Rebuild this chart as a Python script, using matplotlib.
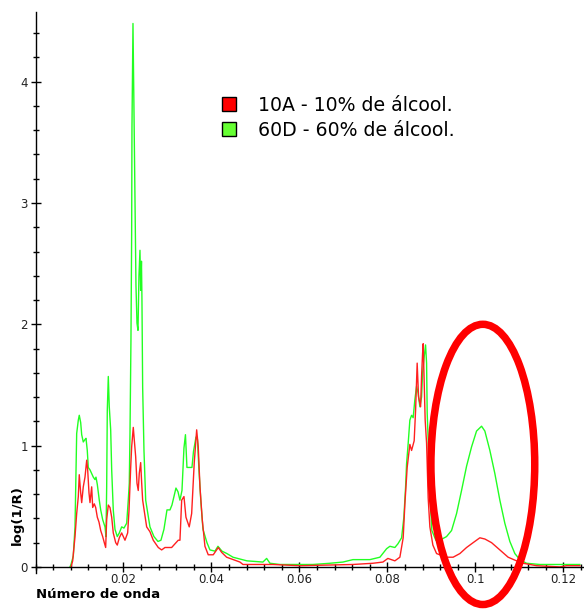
import matplotlib
matplotlib.use('Agg')
import matplotlib.pyplot as plt
from matplotlib.patches import Ellipse, Patch
from matplotlib.ticker import MultipleLocator

# 60D - 60% de alcool (green)
green_x = [0.00784, 0.00807, 0.00859, 0.00898, 0.00920, 0.00936, 0.00973, 0.00995, 0.01027, 0.01050,
           0.01086, 0.01125, 0.01148, 0.01177, 0.01200, 0.01239, 0.01314, 0.01352, 0.01375, 0.01405,
           0.01450, 0.01482, 0.01527, 0.01580, 0.01602, 0.01618, 0.01632, 0.01655, 0.01677, 0.01709,
           0.01732, 0.01768, 0.01807, 0.01859, 0.01905, 0.01959, 0.02011, 0.02073, 0.02109, 0.02132,
           0.02148, 0.02170, 0.02186, 0.02193, 0.02216, 0.02232, 0.02245, 0.02261, 0.02284, 0.02307,
           0.02330, 0.02352, 0.02375, 0.02391, 0.02409, 0.02420, 0.02436, 0.02466, 0.02505, 0.02557,
           0.02602, 0.02693, 0.02784, 0.02852, 0.02920, 0.02989, 0.03057, 0.03102, 0.03193, 0.03239,
           0.03284, 0.03330, 0.03375, 0.03409, 0.03443, 0.03557, 0.03591, 0.03648, 0.03682, 0.03716,
           0.03761, 0.03807, 0.03898, 0.03966, 0.04080, 0.04148, 0.04239, 0.04352, 0.04489, 0.04807,
           0.05170, 0.05255, 0.05330, 0.05557, 0.06307, 0.06693, 0.06989, 0.07216, 0.07602, 0.07830,
           0.07982, 0.08057, 0.08170, 0.08239, 0.08323, 0.08375, 0.08414, 0.08436, 0.08473, 0.08511,
           0.08550, 0.08586, 0.08625, 0.08664, 0.08700, 0.08739, 0.08777, 0.08800, 0.08836, 0.08868,
           0.08891, 0.08905, 0.08927, 0.08966, 0.09011, 0.09102, 0.09193, 0.09345, 0.09459, 0.09573,
           0.09686, 0.09800, 0.09914, 0.10027, 0.10141, 0.10216, 0.10330, 0.10443, 0.10557, 0.10670,
           0.10784, 0.10898, 0.11011, 0.11164, 0.11466, 0.12375]
green_y = [0.00, 0.02, 0.09, 0.33, 0.80, 1.10, 1.21, 1.25, 1.19, 1.09,
           1.03, 1.05, 1.06, 0.96, 0.82, 0.80, 0.74, 0.72, 0.74, 0.68,
           0.55, 0.47, 0.39, 0.33, 0.25, 0.66, 1.29, 1.57, 1.32, 1.13,
           0.80, 0.47, 0.31, 0.25, 0.28, 0.33, 0.32, 0.36, 0.55, 0.69,
           1.10, 1.87, 2.75, 3.62, 4.48, 3.97, 3.62, 2.98, 2.32, 2.01,
           1.95, 2.40, 2.61, 2.28, 2.52, 2.20, 1.48, 0.96, 0.55, 0.43,
           0.33, 0.25, 0.21, 0.22, 0.31, 0.47, 0.47, 0.51, 0.65, 0.62,
           0.55, 0.63, 0.98, 1.09, 0.82, 0.82, 0.95, 1.07, 1.05, 0.80,
           0.53, 0.31, 0.20, 0.14, 0.13, 0.17, 0.13, 0.11, 0.08, 0.05,
           0.04, 0.07, 0.03, 0.02, 0.02, 0.03, 0.04, 0.06, 0.06, 0.08,
           0.15, 0.17, 0.16, 0.19, 0.24, 0.41, 0.66, 0.85, 1.02, 1.21,
           1.25, 1.23, 1.38, 1.49, 1.43, 1.32, 1.40, 1.60, 1.73, 1.83,
           1.68, 1.27, 1.05, 0.60, 0.30, 0.22, 0.22, 0.25, 0.30, 0.44,
           0.63, 0.83, 0.99, 1.12, 1.16, 1.12, 0.96, 0.77, 0.55, 0.36,
           0.21, 0.11, 0.06, 0.03, 0.02, 0.02]

# 10A - 10% de alcool (red)
red_x = [0.00807, 0.00845, 0.00898, 0.00936, 0.00973, 0.00995, 0.01027, 0.01050, 0.01086, 0.01125,
         0.01164, 0.01186, 0.01216, 0.01239, 0.01277, 0.01300, 0.01336, 0.01368, 0.01405, 0.01443,
         0.01482, 0.01527, 0.01564, 0.01595, 0.01618, 0.01655, 0.01693, 0.01732, 0.01768, 0.01823,
         0.01859, 0.01905, 0.01959, 0.02034, 0.02095, 0.02125, 0.02164, 0.02186, 0.02223, 0.02245,
         0.02277, 0.02307, 0.02336, 0.02359, 0.02391, 0.02414, 0.02436, 0.02473, 0.02527, 0.02602,
         0.02677, 0.02791, 0.02868, 0.02943, 0.03095, 0.03245, 0.03284, 0.03323, 0.03375, 0.03420,
         0.03495, 0.03550, 0.03609, 0.03664, 0.03700, 0.03739, 0.03791, 0.03852, 0.03927, 0.04041,
         0.04155, 0.04232, 0.04345, 0.04648, 0.04716, 0.05398, 0.06011, 0.07216, 0.07670, 0.07898,
         0.08011, 0.08170, 0.08284, 0.08359, 0.08398, 0.08450, 0.08511, 0.08550, 0.08609, 0.08641,
         0.08677, 0.08709, 0.08755, 0.08777, 0.08800, 0.08814, 0.08836, 0.08859, 0.08891, 0.08927,
         0.08966, 0.09034, 0.09118, 0.09345, 0.09495, 0.09648, 0.09800, 0.09950, 0.10102, 0.10216,
         0.10368, 0.10557, 0.10745, 0.10936, 0.11086, 0.11391, 0.11920, 0.12073, 0.12375]
red_y = [0.00, 0.05, 0.25, 0.44, 0.58, 0.76, 0.61, 0.53, 0.66, 0.74,
         0.88, 0.80, 0.61, 0.53, 0.66, 0.49, 0.52, 0.49, 0.41, 0.37,
         0.30, 0.25, 0.20, 0.16, 0.39, 0.51, 0.49, 0.41, 0.28, 0.20,
         0.18, 0.24, 0.28, 0.22, 0.28, 0.46, 0.82, 0.99, 1.15, 1.05,
         0.91, 0.69, 0.63, 0.77, 0.86, 0.69, 0.55, 0.46, 0.33, 0.29,
         0.22, 0.16, 0.14, 0.16, 0.16, 0.22, 0.22, 0.55, 0.58, 0.41,
         0.33, 0.44, 0.86, 1.13, 0.99, 0.66, 0.39, 0.17, 0.10, 0.10,
         0.16, 0.12, 0.08, 0.04, 0.02, 0.02, 0.01, 0.02, 0.03, 0.04,
         0.07, 0.05, 0.08, 0.24, 0.52, 0.82, 1.01, 0.96, 1.04, 1.29,
         1.68, 1.40, 1.32, 1.57, 1.76, 1.84, 1.53, 1.21, 1.02, 0.57,
         0.33, 0.18, 0.11, 0.08, 0.08, 0.11, 0.16, 0.20, 0.24, 0.23,
         0.20, 0.14, 0.08, 0.05, 0.03, 0.01, 0.00, 0.01, 0.01]

labels = ['10A - 10% de álcool.', '60D - 60% de álcool.']
x_ticks = [0.02, 0.04, 0.06, 0.08, 0.1, 0.12]
x_ticklabels = ['0.02', '0.04', '0.06', '0.08', '0.1', '0.12']
y_ticks = [0, 1, 2, 3, 4]

fig = plt.figure(figsize=(5.84, 6.10), dpi=100)
ax = fig.add_axes([0.0608, 0.0607, 0.9392, 0.9197])

ax.plot(green_x, green_y, color='#22ff22', lw=1.0)
ax.plot(red_x, red_y, color='#ff2020', lw=1.0)

ax.set_xlim(0, 0.1247)
ax.set_ylim(-0.05, 4.575)

for s in ['top', 'right']:
    ax.spines[s].set_visible(False)
ax.spines['bottom'].set_position(('data', 0))
ax.spines['bottom'].set_linewidth(1.0)
ax.spines['left'].set_linewidth(1.0)

ax.set_xticks(x_ticks)
ax.set_xticklabels(x_ticklabels)
ax.set_yticks(y_ticks)
ax.xaxis.set_minor_locator(MultipleLocator(0.004))
ax.yaxis.set_minor_locator(MultipleLocator(0.2))
ax.tick_params(which='major', direction='inout', length=7, width=1, labelsize=8.5,
               labelcolor='#222222', pad=2)
ax.tick_params(which='minor', direction='inout', length=5, width=1)
ax.tick_params(axis='x', which='major', pad=1)

fig.text(35.5 / 584, 1 - 595 / 610, 'Número de onda', fontsize=9.5, fontweight='bold',
         ha='left', va='center')
fig.text(17 / 584, 1 - 515 / 610, 'log(1/R)', fontsize=9.5, fontweight='bold',
         rotation=90, ha='center', va='center')

handles = [Patch(facecolor='#ff0000', edgecolor='black', lw=1),
           Patch(facecolor='#66ff33', edgecolor='black', lw=1)]
ax.legend(handles, labels, loc='upper left', bbox_to_anchor=(222 / 584, 1 - 96 / 610),
          bbox_transform=fig.transFigure, frameon=False, fontsize=13.6,
          handlelength=0.75, handleheight=0.75, handletextpad=1.15, labelspacing=0.3,
          borderpad=0, borderaxespad=0)

ell = Ellipse((0.1017, 0.845), 0.0236, 2.31, fill=False, edgecolor='#ff0000', lw=5.4,
              clip_on=False, zorder=5)
ax.add_patch(ell)

fig.savefig('out.png', dpi=100)
